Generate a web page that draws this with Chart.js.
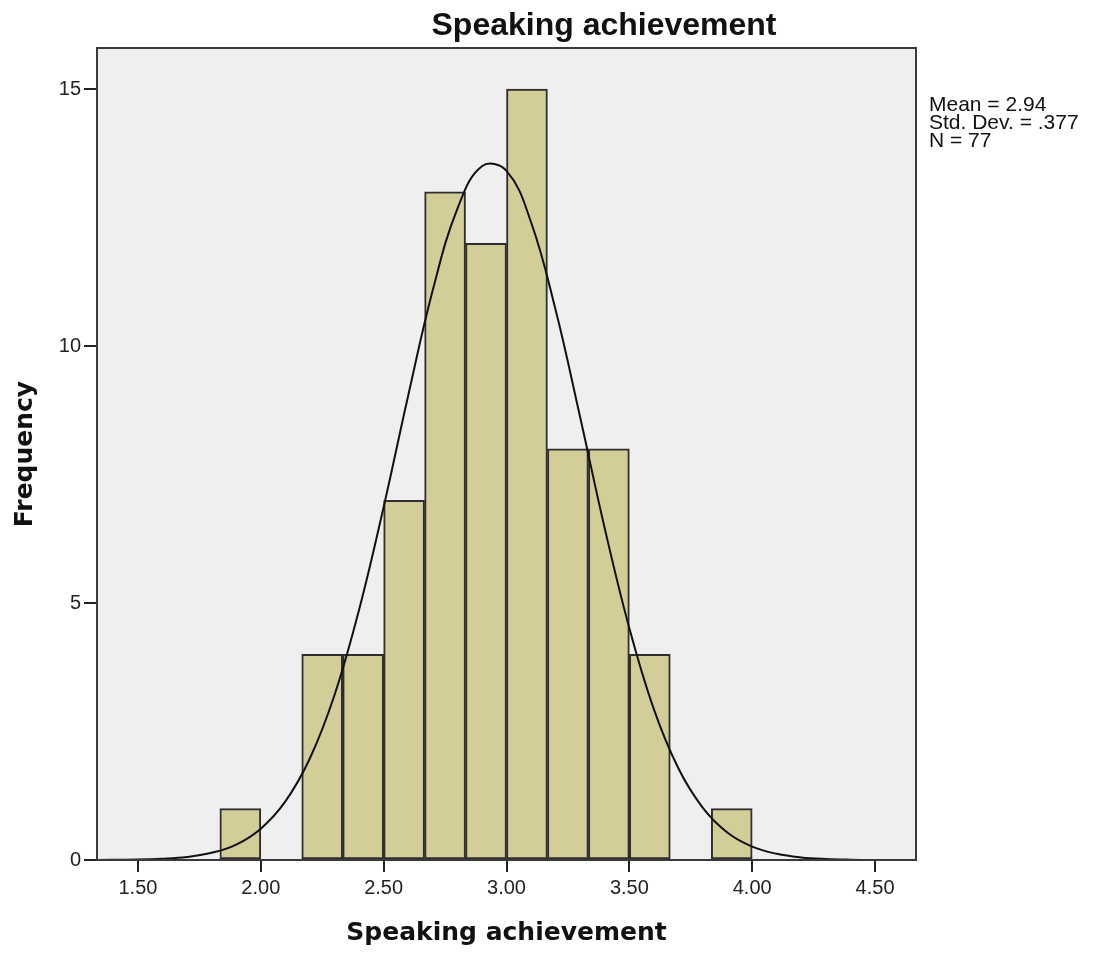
<!DOCTYPE html>
<html>
<head>
<meta charset="utf-8">
<script src="https://cdn.jsdelivr.net/npm/chart.js@4/dist/chart.umd.min.js"></script>
<style>
  html, body { margin: 0; padding: 0; background: #fff; }
  #wrap { width: 1094px; height: 954px; }
</style>
</head>
<body>
<div id="wrap"><canvas id="myChart" width="1094" height="954"></canvas></div>
<script>
// histogram bins (centres of 1/6-wide bins) and their counts
var binCenters = [1.9167, 2.25, 2.4167, 2.5833, 2.75, 2.9167, 3.0833, 3.25, 3.4167, 3.5833, 3.9167];
var binCounts  = [1, 4, 4, 7, 13, 12, 15, 8, 8, 4, 1];

// normal curve
var curveX = [1.3333, 1.5, 1.6, 1.7, 1.8, 1.9, 2.0, 2.1, 2.2, 2.3, 2.4, 2.5, 2.6, 2.7, 2.8, 2.9,
              3.0, 3.1, 3.2, 3.3, 3.4, 3.5, 3.6, 3.7, 3.8, 3.9, 4.0, 4.1, 4.2, 4.3, 4.4, 4.5, 4.6667];
var curveY = [0.002, 0.009, 0.025, 0.06, 0.14, 0.30, 0.61, 1.14, 1.98, 3.21, 4.87, 6.87, 9.04, 11.09, 12.67, 13.50,
              13.41, 12.41, 10.70, 8.61, 6.45, 4.51, 2.93, 1.78, 1.01, 0.53, 0.26, 0.12, 0.05, 0.02, 0.007, 0.002, 0.0];

var xTicks = [1.5, 2.0, 2.5, 3.0, 3.5, 4.0, 4.5];
var yTicks = [0, 5, 10, 15];
var statsLines = ['Mean = 2.94', 'Std. Dev. = .377', 'N = 77'];
var chartTitle = 'Speaking achievement';

document.addEventListener("DOMContentLoaded", function() {
    var framePlugin = {
        id: 'frame',
        beforeDatasetsDraw: function(chart) {
            var a = chart.chartArea, c = chart.ctx;
            c.save();
            c.fillStyle = '#efefef';
            c.fillRect(a.left, a.top, a.right - a.left, a.bottom - a.top);
            c.restore();
        },
        afterDraw: function(chart) {
            var a = chart.chartArea, c = chart.ctx;
            c.save();
            c.strokeStyle = '#3a3a3a';
            c.lineWidth = 2;
            c.strokeRect(a.left, a.top, a.right - a.left, a.bottom - a.top);

            // title
            c.fillStyle = '#111';
            c.font = 'bold 32px "Liberation Sans", Arial, sans-serif';
            c.textAlign = 'center';
            c.textBaseline = 'alphabetic';
            c.fillText(chartTitle, 604, 35);

            // stats box text
            c.font = '21px "Liberation Sans", Arial, sans-serif';
            c.textAlign = 'left';
            for (var i = 0; i < statsLines.length; i++) {
                c.fillText(statsLines[i], 929, 111 + i * 18);
            }
            c.restore();
        }
    };

    var ctx = document.getElementById('myChart').getContext('2d');
    var chart = new Chart(ctx, {
        type: 'bar',
        data: {
            datasets: [{
                type: 'line',
                label: 'Normal',
                data: curveX.map(function(x, i) { return { x: x, y: curveY[i] }; }),
                borderColor: '#111',
                borderWidth: 2,
                pointRadius: 0,
                tension: 0.4,
                fill: false,
                order: 0
            }, {
                label: 'Frequency',
                data: binCenters.map(function(x, i) { return { x: x, y: binCounts[i] }; }),
                backgroundColor: '#d3ce97',
                borderColor: '#2e2e2e',
                borderWidth: 2,
                borderSkipped: false,
                barPercentage: 1,
                categoryPercentage: 1,
                order: 1
            }]
        },
        options: {
            responsive: false,
            animation: false,
            layout: { padding: { left: 8, top: 48, right: 178, bottom: 0 } },
            plugins: {
                legend: { display: false },
                tooltip: { enabled: false }
            },
            scales: {
                x: {
                    type: 'linear',
                    min: 1.3333,
                    max: 4.6667,
                    offset: false,
                    afterBuildTicks: function(s) { s.ticks = xTicks.map(function(v) { return { value: v }; }); },
                    afterFit: function(s) { s.height = 94; },
                    border: { display: false },
                    grid: { offset: false, drawOnChartArea: false, drawTicks: true, tickLength: 12, color: '#222', lineWidth: 2 },
                    ticks: {
                        color: '#222',
                        padding: 4,
                        font: { family: '"Liberation Sans", Arial, sans-serif', size: 20 },
                        callback: function(v) { return Number(v).toFixed(2); }
                    },
                    title: {
                        display: true,
                        text: 'Speaking achievement',
                        color: '#111',
                        padding: { top: 0, bottom: 6 },
                        font: { family: '"DejaVu Sans", Verdana, sans-serif', size: 25, weight: 'bold' }
                    }
                },
                y: {
                    min: 0,
                    max: 15.8,
                    afterBuildTicks: function(s) { s.ticks = yTicks.map(function(v) { return { value: v }; }); },
                    afterFit: function(s) { s.width = 89; },
                    border: { display: false },
                    grid: { drawOnChartArea: false, drawTicks: true, tickLength: 13, color: '#222', lineWidth: 2 },
                    ticks: {
                        color: '#222',
                        padding: 3,
                        font: { family: '"Liberation Sans", Arial, sans-serif', size: 20 }
                    },
                    title: {
                        display: true,
                        text: 'Frequency',
                        color: '#111',
                        padding: { top: 2, bottom: 0 },
                        font: { family: '"DejaVu Sans", Verdana, sans-serif', size: 25, weight: 'bold' }
                    }
                }
            }
        },
        plugins: [framePlugin]
    });
});
</script>
</body>
</html>
